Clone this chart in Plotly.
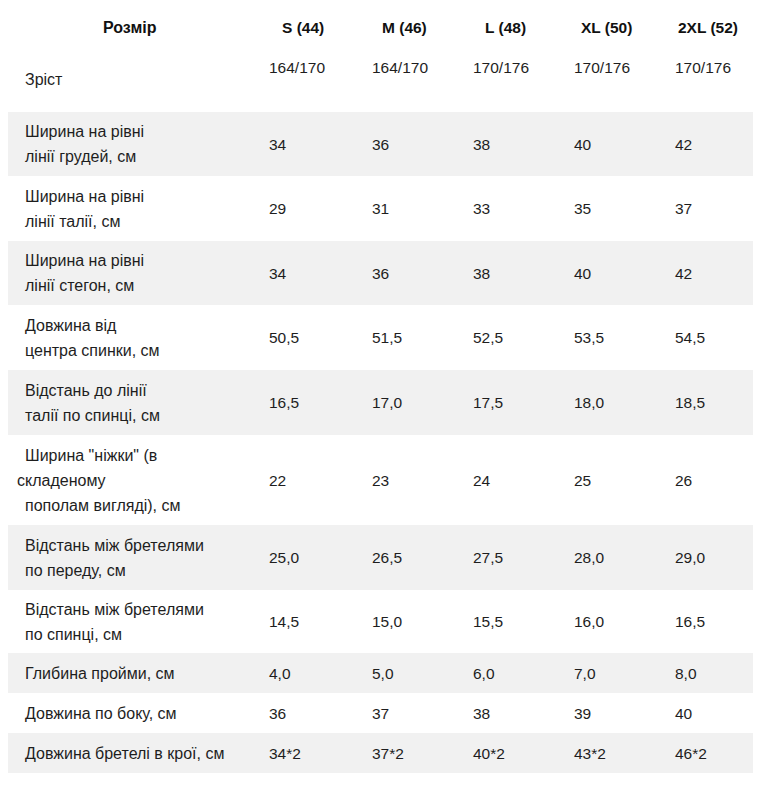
import plotly.graph_objects as go

# ---- data ----
size_headers = ["S (44)", "M (46)", "L (48)", "XL (50)", "2XL (52)"]
param_header = "Розмір"
height_label = "Зріст"
height_values = ["164/170", "164/170", "170/176", "170/176", "170/176"]

row_labels = [
    ["Ширина на рівні", "лінії грудей, см"],
    ["Ширина на рівні", "лінії талії, см"],
    ["Ширина на рівні", "лінії стегон, см"],
    ["Довжина від", "центра спинки, см"],
    ["Відстань до лінії", "талії по спинці, см"],
    ["Ширина \"ніжки\" (в", "складеному", "пополам вигляді), см"],
    ["Відстань між бретелями", "по переду, см"],
    ["Відстань між бретелями", "по спинці, см"],
    ["Глибина пройми, см"],
    ["Довжина по боку, см"],
    ["Довжина бретелі в крої, см"],
]
row_values = [
    ["34", "36", "38", "40", "42"],
    ["29", "31", "33", "35", "37"],
    ["34", "36", "38", "40", "42"],
    ["50,5", "51,5", "52,5", "53,5", "54,5"],
    ["16,5", "17,0", "17,5", "18,0", "18,5"],
    ["22", "23", "24", "25", "26"],
    ["25,0", "26,5", "27,5", "28,0", "29,0"],
    ["14,5", "15,0", "15,5", "16,0", "16,5"],
    ["4,0", "5,0", "6,0", "7,0", "8,0"],
    ["36", "37", "38", "39", "40"],
    ["34*2", "37*2", "40*2", "43*2", "46*2"],
]

# ---- layout constants (page pixel space; page body has an 8px margin) ----
PAGE_W, PAGE_H = 783, 800
BODY_M = 8
row_edges = [112, 176, 241, 305, 370, 435, 525, 590, 653, 693, 733, 773]
shade_x0, shade_x1 = 7, 753
shade_color = "#f1f1f1"
label_x = 23
value_x = [267, 370, 471, 572, 673]
header_cx = [303, 404, 505, 606, 708]
param_cx = 130
header_y = 27
height_label_y = 79
height_values_y = 67
line_gap = 25
FONT = "Liberation Sans, Arial, sans-serif"
FS_NUM = 15.5
FS_LBL = 16
TXT = "#1e1e1e"
line_indent = {(5, 1): 15}  # wrapped line without leading space

fig = go.Figure()
fig.add_trace(go.Scatter(x=[BODY_M, PAGE_W], y=[BODY_M, PAGE_H], mode="markers",
                         marker=dict(opacity=0), hoverinfo="skip", showlegend=False))

shapes = []
ann = []

def add_text(x, y, text, size, anchor="left", bold=False, color=TXT):
    ann.append(dict(x=x, y=y, xref="x", yref="y", text=(f"<b>{text}</b>" if bold else text),
                    showarrow=False, xanchor=anchor, yanchor="middle",
                    font=dict(family=FONT, size=size, color=color)))

# header
add_text(param_cx, header_y, param_header, FS_LBL, anchor="center", bold=True, color="#111111")
for cx, h in zip(header_cx, size_headers):
    add_text(cx, header_y, h, FS_NUM, anchor="center", bold=True, color="#111111")

# height row
add_text(label_x, height_label_y, height_label, FS_LBL)
for vx, v in zip(value_x, height_values):
    add_text(vx, height_values_y, v, FS_NUM)

# data rows
for i, (lines, vals) in enumerate(zip(row_labels, row_values)):
    top, bot = row_edges[i], row_edges[i + 1]
    cy = (top + bot) / 2
    if i % 2 == 0:
        shapes.append(dict(type="rect", xref="x", yref="y", x0=shade_x0, x1=shade_x1,
                           y0=top, y1=bot, fillcolor=shade_color, line=dict(width=0),
                           layer="below"))
    n = len(lines)
    for j, ln in enumerate(lines):
        ly = cy + (j - (n - 1) / 2) * line_gap
        add_text(line_indent.get((i, j), label_x), ly, ln, FS_LBL)
    for vx, v in zip(value_x, vals):
        add_text(vx, cy, v, FS_NUM)

fig.update_layout(
    width=PAGE_W - BODY_M, height=PAGE_H - BODY_M, margin=dict(l=0, r=0, t=0, b=0),
    paper_bgcolor="white", plot_bgcolor="white",
    xaxis=dict(range=[BODY_M, PAGE_W], visible=False, fixedrange=True),
    yaxis=dict(range=[PAGE_H, BODY_M], visible=False, fixedrange=True),
    shapes=shapes, annotations=ann, showlegend=False,
)
fig.write_html("out.html")
